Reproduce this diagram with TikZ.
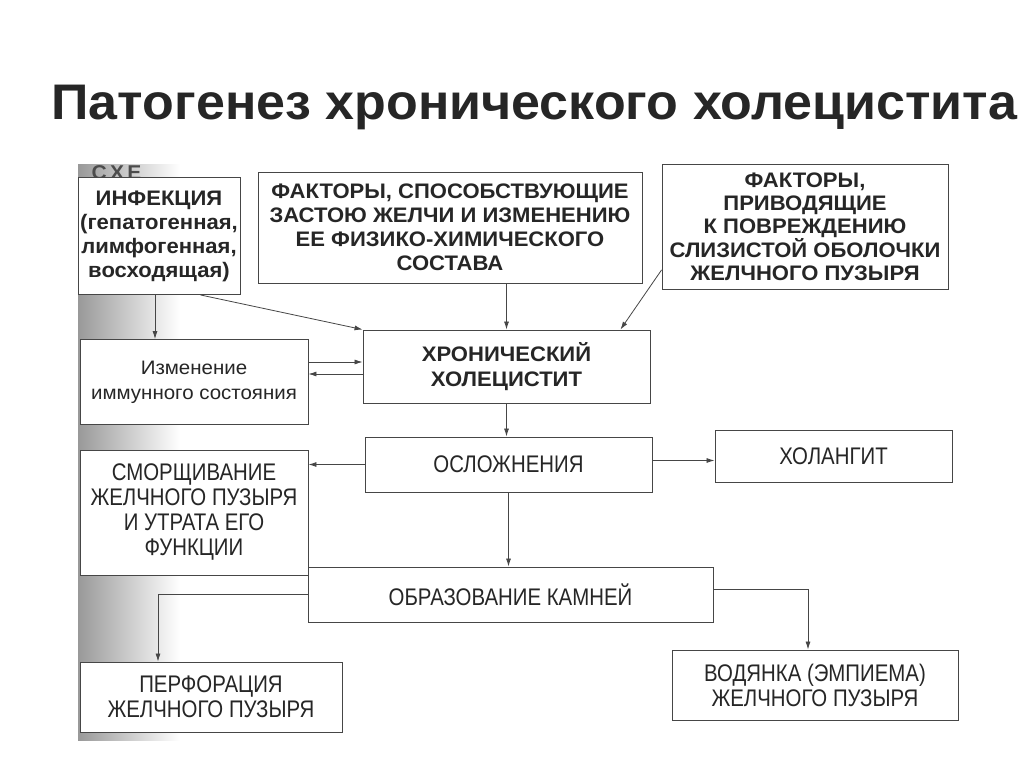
\documentclass[tikz,border=0pt]{standalone}
\usepackage{fontspec}
\setmainfont{Liberation Sans}
\newfontfamily\narrowsans[FakeStretch=0.85]{Liberation Sans}
\newfontfamily\widesans[FakeStretch=1.05]{Liberation Sans}
\newfontfamily\titlesans[FakeStretch=1.04]{Liberation Sans}
\usetikzlibrary{arrows.meta,positioning,calc}
\definecolor{inkgray}{RGB}{38,38,38}
\definecolor{linegray}{RGB}{70,70,70}
\tikzset{
  cbox/.style={
    draw=linegray,line width=0.9pt,align=center,inner sep=2pt,
    fill=white,text=inkgray
  },
  headbox/.style={cbox,font=\widesans\fontsize{21}{24}\selectfont\bfseries},
  plainbox/.style={cbox,font=\widesans\fontsize{19.5}{25}\selectfont},
  thinbox/.style={cbox,font=\narrowsans\fontsize{24}{25}\selectfont},
  link/.style={-{Latex[length=8pt,width=5pt]},draw=linegray,line width=0.8pt}
}
\begin{document}
\begin{tikzpicture}[x=1pt,y=-1pt]
  \useasboundingbox (0,0) rectangle (1024,767);
  \fill[white] (0,0) rectangle (1024,767);
  % scanned page edge
  \shade[left color=black!40,right color=white] (78,165) rectangle (180,740);
  \node[anchor=base west,font=\titlesans\fontsize{50}{60}\selectfont\bfseries,text=inkgray]
    (title) at (48,120) {Патогенез хронического холецистита};
  \begin{scope}
    \clip (78,166) rectangle (250,200);
    \node[anchor=base west,font=\widesans\fontsize{20}{22}\selectfont\bfseries,text=black!70]
      (scheme) at (88,180) {С\,Х\,Е};
  \end{scope}
  % top row
  \node[headbox,minimum width=162pt,minimum height=117pt] (inf) at (159,236)
    {ИНФЕКЦИЯ\\(гепатогенная,\\лимфогенная,\\восходящая)};
  \node[headbox,minimum width=384pt,minimum height=111pt] (stasis) at (450,227.5)
    {ФАКТОРЫ, СПОСОБСТВУЮЩИЕ\\ЗАСТОЮ ЖЕЛЧИ И ИЗМЕНЕНИЮ\\ЕЕ ФИЗИКО-ХИМИЧЕСКОГО\\СОСТАВА};
  \node[headbox,minimum width=286pt,minimum height=125pt,
    font=\widesans\fontsize{21}{23}\selectfont\bfseries] (damage) at (805,227)
    {ФАКТОРЫ,\\ПРИВОДЯЩИЕ\\К ПОВРЕЖДЕНИЮ\\СЛИЗИСТОЙ ОБОЛОЧКИ\\ЖЕЛЧНОГО ПУЗЫРЯ};
  % middle
  \node[plainbox,minimum width=228pt,minimum height=85pt] (immun) at (194,382)
    {Изменение\\иммунного состояния};
  \node[headbox,minimum width=287pt,minimum height=73pt,
    font=\widesans\fontsize{21}{25}\selectfont\bfseries] (chol) at (506.5,366.5)
    {ХРОНИЧЕСКИЙ\\ХОЛЕЦИСТИТ};
  \node[thinbox,minimum width=287pt,minimum height=55pt] (compl) at (508.5,464.5)
    {ОСЛОЖНЕНИЯ};
  \node[thinbox,minimum width=237pt,minimum height=52pt] (cholang) at (833.5,456)
    {ХОЛАНГИТ};
  \node[thinbox,minimum width=228pt,minimum height=125pt] (shrink) at (194,512.5)
    {СМОРЩИВАНИЕ\\ЖЕЛЧНОГО ПУЗЫРЯ\\И УТРАТА ЕГО\\ФУНКЦИИ};
  % bottom
  \node[thinbox,minimum width=405pt,minimum height=55pt] (stones) at (510.5,594.5)
    {ОБРАЗОВАНИЕ КАМНЕЙ};
  \node[thinbox,minimum width=262pt,minimum height=70pt] (perf) at (211,697)
    {ПЕРФОРАЦИЯ\\ЖЕЛЧНОГО ПУЗЫРЯ};
  \node[thinbox,minimum width=286pt,minimum height=70pt] (hydrops) at (815,685)
    {ВОДЯНКА (ЭМПИЕМА)\\ЖЕЛЧНОГО ПУЗЫРЯ};
  % connectors
  \draw[link] ([xshift=-4pt]inf.south) -- ([xshift=-4pt]inf.south |- immun.north);
  \draw[link] ([xshift=-40pt]inf.south east) -- (chol.north west);
  \draw[link] (chol.north |- stasis.south) -- (chol.north);
  \draw[link] ([yshift=20pt]damage.south west) -- ([xshift=-30pt]chol.north east);
  \draw[link] ([yshift=20pt]immun.east) -- ([yshift=20pt]immun.east -| chol.west);
  \draw[link] ([yshift=8pt]immun.east -| chol.west) -- ([yshift=8pt]immun.east);
  \draw[link] (chol.south) -- (chol.south |- compl.north);
  \draw[link] (compl.west) -- (compl.west -| shrink.east);
  \draw[link] ([yshift=4pt]compl.east) -- ([yshift=4pt]compl.east -| cholang.west);
  \draw[link] (compl.south) -- (compl.south |- stones.north);
  \draw[link] (stones.west) -| ([xshift=-53pt]perf.north);
  \draw[link] ([yshift=5pt]stones.east) -| ([xshift=-7pt]hydrops.north);
\end{tikzpicture}
\end{document}
